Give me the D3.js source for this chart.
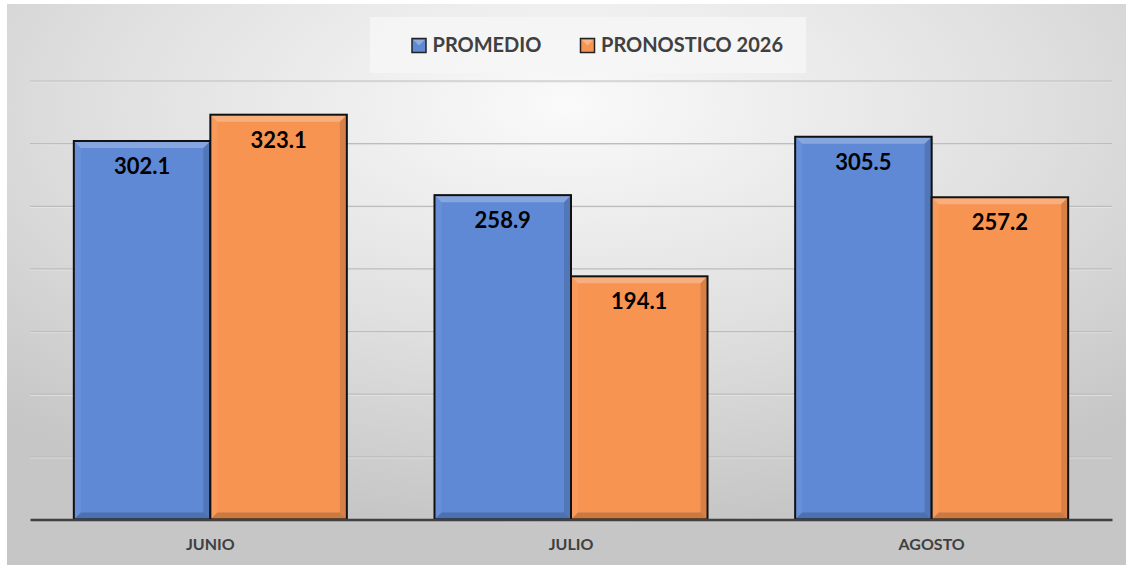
<!DOCTYPE html>
<html><head><meta charset="utf-8">
<script src="https://cdn.jsdelivr.net/npm/d3@7"></script>
<style>html,body{margin:0;padding:0;background:#fff;}svg{display:block;}</style>
</head><body>
<svg id="c" width="1132" height="567"></svg>
<script>
const categories = ["JUNIO", "JULIO", "AGOSTO"];
const seriesNames = ["PROMEDIO", "PRONOSTICO 2026"];
const promedio = [302.1, 258.9, 305.5];
const pronostico = [323.1, 194.1, 257.2];
const yTicks = [0, 50, 100, 150, 200, 250, 300, 350];

const colors = ["#5F89D5", "#F79452"];
const series = [promedio, pronostico];

const svg = d3.select("#c");
const defs = svg.append("defs");
const bg = defs.append("radialGradient").attr("id","bg").attr("cx","50%").attr("cy","18%").attr("r","75%")
  .attr("gradientUnits","objectBoundingBox");
bg.append("stop").attr("offset","0%").attr("stop-color","#fafafa");
bg.append("stop").attr("offset","55%").attr("stop-color","#e0e0e0");
bg.append("stop").attr("offset","100%").attr("stop-color","#c6c6c6");

svg.append("rect").attr("x",7).attr("y",4).attr("width",1119).attr("height",561).attr("fill","url(#bg)");

const margin = {left:30, right:1112, top:81, bottom:519.5};
const x0 = d3.scaleBand().domain(categories).range([margin.left, margin.right]).paddingInner(0).paddingOuter(0);
const x1 = d3.scaleBand().domain([0,1]).range([0, x0.bandwidth()]).paddingOuter(0.321).paddingInner(0);
const y = d3.scaleLinear().domain([0,350]).range([margin.bottom, margin.top]);

// gridlines
const grid = svg.append("g");
yTicks.filter(t=>t>0).forEach(t=>{
  grid.append("line").attr("x1",margin.left).attr("x2",margin.right).attr("y1",y(t)+1).attr("y2",y(t)+1)
    .attr("stroke","#e6e6e6").attr("stroke-width",1);
  grid.append("line").attr("x1",margin.left).attr("x2",margin.right).attr("y1",y(t)).attr("y2",y(t))
    .attr("stroke","#bdbdbd").attr("stroke-width",1.2);
});

// legend
svg.append("rect").attr("x",370).attr("y",17).attr("width",436).attr("height",56).attr("fill","#f6f6f6").attr("opacity",0.85);
const legX = [411.5, 580];
seriesNames.forEach((n,i)=>{
  const g = svg.append("g").attr("transform",`translate(${legX[i]},38)`);
  g.append("rect").attr("x",0.5).attr("y",0.5).attr("width",14).attr("height",14).attr("fill",colors[i]).attr("stroke","#222").attr("stroke-width",1.5);
  g.append("path").attr("d","M2,2 L13,2 L7.5,7.5 Z").attr("fill","#fff").attr("opacity",0.3);
  g.append("text").attr("x",21).attr("y",14.3).text(n)
    .attr("font-family","Lato, 'Open Sans', sans-serif").attr("font-weight","bold").attr("font-size",20).attr("fill","#404040");
});

// bars
const bev = 7;
categories.forEach((c,ci)=>{
  series.forEach((s,si)=>{
    const bx = x0(c) + x1(si), bw = x1.bandwidth();
    const by = y(s[ci]), bh = y(0) - y(s[ci]);
    const g = svg.append("g");
    g.append("rect").attr("x",bx).attr("y",by).attr("width",bw).attr("height",bh).attr("fill",colors[si]);
    g.append("path").attr("d",`M${bx},${by} L${bx+bw},${by} L${bx+bw-bev},${by+bev} L${bx+bev},${by+bev} Z`).attr("fill","#fff").attr("opacity",0.25);
    g.append("path").attr("d",`M${bx},${by} L${bx+bev},${by+bev} L${bx+bev},${by+bh-bev} L${bx},${by+bh} Z`).attr("fill","#fff").attr("opacity",0.06);
    g.append("path").attr("d",`M${bx+bw},${by} L${bx+bw},${by+bh} L${bx+bw-bev},${by+bh-bev} L${bx+bw-bev},${by+bev} Z`).attr("fill","#000").attr("opacity",0.13);
    g.append("path").attr("d",`M${bx},${by+bh} L${bx+bw},${by+bh} L${bx+bw-bev},${by+bh-bev} L${bx+bev},${by+bh-bev} Z`).attr("fill","#000").attr("opacity",0.18);
    g.append("rect").attr("x",bx).attr("y",by).attr("width",bw).attr("height",bh).attr("fill","none").attr("stroke","#111").attr("stroke-width",2);
    g.append("text").attr("x",bx+bw/2).attr("y",by+33).attr("text-anchor","middle").text(s[ci].toFixed(1))
      .attr("font-family","Lato, 'Open Sans', sans-serif").attr("font-weight","bold").attr("font-size",22).attr("fill","#000");
  });
});

// axis
const xAxis = d3.axisBottom(x0).tickSize(0).tickPadding(0);
const ax = svg.append("g").attr("transform",`translate(0,${margin.bottom})`).call(xAxis);
ax.select(".domain").attr("stroke","#404040").attr("stroke-width",2.5);
ax.selectAll("text").attr("dy",0).attr("y",30).attr("font-family","Lato, 'Open Sans', sans-serif")
  .attr("font-weight","bold").attr("font-size",16).attr("fill","#404040");
</script>
</body></html>
